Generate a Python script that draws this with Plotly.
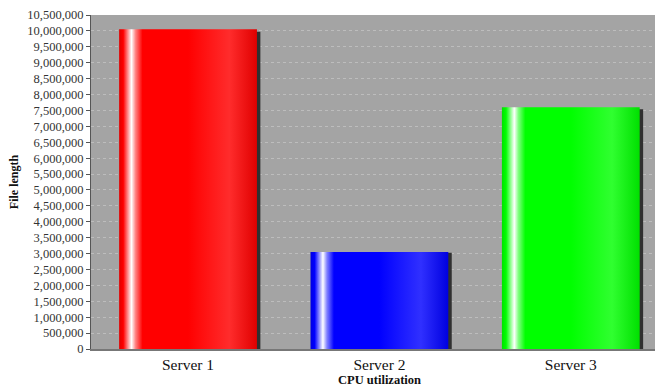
import plotly.graph_objects as go

categories = ["Server 1", "Server 2", "Server 3"]
file_length = [10050000, 3050000, 7600000]
y_ticks = list(range(0, 10500001, 500000))
y_tick_labels = [f"{v:,}" for v in y_ticks]
x_title = "CPU utilization"
y_title = "File length"

base_colors = ["#ff0000", "#0000ff", "#00ff00"]
edge_colors = ["#e00000", "#0000e0", "#00e000"]
mid_colors = ["#ff8080", "#8080ff", "#80ff80"]
light_colors = ["#ff2c2c", "#3030ff", "#30ff30"]

bar_w = 0.72
shadow_dx = 0.018

fig = go.Figure()
for i, (cat, v) in enumerate(zip(categories, file_length)):
    x0, x1 = i - bar_w / 2, i + bar_w / 2
    # shadow
    fig.add_trace(go.Scatter(
        x=[x0 + shadow_dx, x1 + shadow_dx, x1 + shadow_dx, x0 + shadow_dx, x0 + shadow_dx],
        y=[0, 0, v * 0.992, v * 0.992, 0],
        fill="toself", mode="lines", line=dict(width=0),
        fillcolor="#303030", hoverinfo="skip", showlegend=False))
    cs = [
        [0.0, edge_colors[i]],
        [0.03, base_colors[i]],
        [0.06, mid_colors[i]],
        [0.09, "#ffffff"],
        [0.12, mid_colors[i]],
        [0.17, base_colors[i]],
        [0.5, base_colors[i]],
        [0.8, light_colors[i]],
        [1.0, edge_colors[i]],
    ]
    fig.add_trace(go.Scatter(
        x=[x0, x1, x1, x0, x0],
        y=[0, 0, v, v, 0],
        fill="toself", mode="lines", line=dict(width=0),
        fillgradient=dict(type="horizontal", colorscale=cs),
        name=cat, hovertemplate=f"{cat}: %{{y:,}}<extra></extra>",
        showlegend=False))

font_family = "Liberation Serif"
fig.update_layout(
    width=661, height=388,
    margin=dict(l=91, r=6, t=15, b=39),
    paper_bgcolor="white",
    plot_bgcolor="#a4a4a4",
    font=dict(family=font_family, color="#222"),
    xaxis=dict(
        range=[-0.507, 2.44],
        automargin=False,
        tickmode="array", tickvals=[0, 1, 2], ticktext=categories,
        tickfont=dict(size=15.5, color="#111"),
        showgrid=False, zeroline=False,
        showline=True, linecolor="#777", linewidth=2,
        ticks="", ticklen=0,
    ),
    yaxis=dict(
        range=[0, 10500000],
        automargin=False,
        tickmode="array", tickvals=y_ticks, ticktext=y_tick_labels,
        tickfont=dict(size=12.5, color="#333"),
        showgrid=True, gridcolor="#bdbdbd", griddash="dot", gridwidth=1,
        zeroline=False,
        showline=True, linecolor="#555", linewidth=1,
        ticks="outside", ticklen=4, tickcolor="#555",
        title=dict(text=f"<b>{y_title}</b>", font=dict(size=12, color="#111"), standoff=6),
    ),
    annotations=[dict(
        text=f"<b>{x_title}</b>", xref="x", x=1, yref="paper", y=0,
        yanchor="middle", yshift=-31, showarrow=False,
        font=dict(size=12.5, color="#111", family=font_family),
    )],
)

fig.write_html("out.html")
